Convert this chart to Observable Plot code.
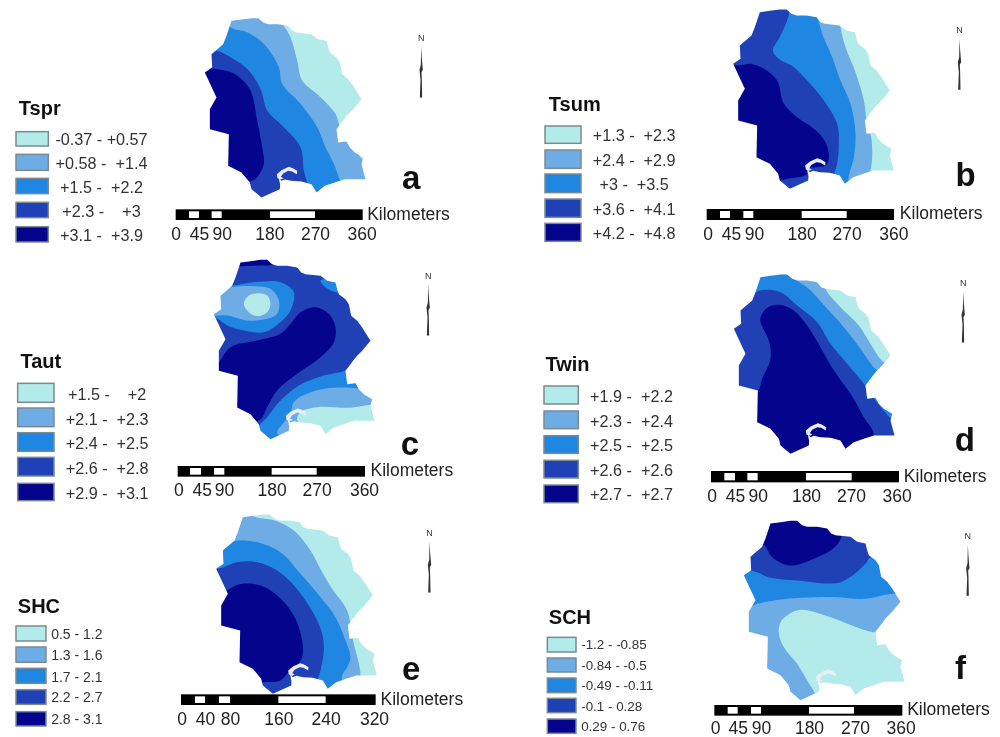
<!DOCTYPE html>
<html><head><meta charset="utf-8">
<style>html,body{margin:0;padding:0;background:#fff}svg{display:block;filter:blur(.55px)}</style>
<script src="https://cdn.jsdelivr.net/npm/d3@7"></script>
<script src="https://cdn.jsdelivr.net/npm/@observablehq/plot@0.6"></script>
</head><body><div id="chart"></div>
<script>
const classColors = ["#b3ebeb","#6dace4","#1f86e2","#2040b5","#04048d"];
const tick360 = ["0","45","90","180","270","360"];
const tick320 = ["0","40","80","160","240","320"];

// province outline (image units = 1/3 px)
const outline = [[690,80],[720,76],[750,72],[770,72],[785,85],[800,90],[830,90],[860,95],[872,110],[885,115],[930,120],[950,135],[975,140],[980,160],[985,175],[1005,190],[1015,205],[1022,240],[1040,255],[1055,275],[1080,315],[1055,345],[1035,365],[1020,385],[1005,405],[1010,445],[1035,442],[1045,460],[1060,475],[1085,490],[1080,510],[1092,555],[1030,555],[1000,565],[970,575],[945,595],[930,570],[900,562],[870,560],[850,556],[840,560],[832,552],[836,572],[835,585],[780,610],[750,585],[745,565],[720,535],[680,515],[682,420],[625,405],[625,345],[645,310],[610,235],[632,220],[630,180],[665,150],[675,125]];
const lake = [[826,540],[840,528],[862,518],[874,522],[887,530],[886,540],[872,532],[860,530],[845,538],[838,548],[846,552],[838,556],[828,552]];
const needle = [[0,25],[2,60],[5,95],[1,102],[2,125],[3,178],[-4,178],[-2,125],[-5,95],[-1,80]];

const zonesA = [
 [1,[[840,0],[840,55],[870,110],[890,180],[905,240],[960,290],[1005,340],[1020,385],[1045,420],[1065,445],[1085,475],[1120,480],[1120,620],[500,620],[500,0]]],
 [2,[[680,40],[690,80],[740,95],[790,130],[835,200],[845,250],[900,310],[950,380],[975,440],[1000,490],[1020,545],[1050,620],[500,620],[500,40]]],
 [3,[[500,150],[645,150],[690,170],[740,205],[780,265],[800,330],[850,380],[900,440],[910,510],[920,545],[945,620],[500,620]]],
 [4,[[500,210],[660,208],[710,225],[750,270],[770,360],[785,440],[790,490],[770,530],[740,545],[500,545]]]];
const zonesB = [
 [1,[[920,0],[930,80],[945,140],[975,215],[1000,300],[1010,370],[1022,410],[1025,470],[1020,510],[1000,600],[500,600],[500,0]]],
 [2,[[855,0],[860,40],[875,100],[905,170],[930,240],[960,310],[975,400],[970,470],[955,525],[945,600],[500,600],[500,0]]],
 [3,[[785,0],[780,20],[770,60],[745,115],[727,150],[745,175],[790,200],[830,240],[880,300],[920,370],[925,430],[920,490],[910,525],[905,600],[500,600],[500,0]]],
 [4,[[500,190],[625,195],[660,190],[700,205],[740,240],[760,310],[800,350],[850,385],[885,425],[895,470],[885,495],[830,505],[828,522],[770,535],[745,540],[500,540]]]];
const zonesC = [
 [4,[[700,15],[840,15],[830,40],[775,45],[725,47],[700,45]]],
 [2,[[600,105],[690,105],[760,95],[840,95],[880,125],[870,180],[840,215],[790,245],[730,240],[680,225],[650,205],[600,190]]],
 [2,[[960,90],[1015,85],[1015,125],[975,110]]],
 [1,[[600,130],[690,110],[760,107],[810,115],[835,150],[830,190],[800,205],[740,210],[680,195],[640,195],[600,195]]],
 [0,[[730,160],[745,135],[775,128],[800,135],[810,160],[800,185],[770,197],[745,185]]],
 [4,[[600,352],[640,352],[690,290],[770,270],[840,250],[870,220],[900,185],[945,170],[985,190],[1005,230],[1000,275],[960,320],[890,370],[830,420],[800,470],[775,510],[600,510]]],
 [2,[[1070,340],[1035,360],[960,378],[895,405],[840,450],[800,500],[775,530],[790,600],[880,600],[1150,600],[1150,430],[1100,400]]],
 [1,[[1150,430],[1080,415],[1000,412],[930,425],[880,455],[870,490],[855,510],[830,545],[840,560],[880,600],[1150,600]]],
 [0,[[1150,470],[1040,472],[950,470],[900,485],[890,510],[930,530],[970,600],[1150,600]]]];
const zonesD = [
 [1,[[880,50],[885,115],[925,165],[985,225],[1020,280],[1060,335],[1120,350],[1120,640],[500,640],[500,50]]],
 [2,[[790,50],[800,88],[835,115],[890,175],[940,230],[990,295],[1025,345],[1050,370],[1150,500],[1150,640],[500,640],[500,50]]],
 [3,[[500,125],[672,125],[700,118],[750,125],[800,165],[860,215],[900,280],[950,340],[1000,400],[1035,450],[1060,480],[1085,505],[1150,505],[1150,640],[500,640]]],
 [4,[[690,215],[690,200],[710,172],[745,163],[790,180],[830,225],[870,290],[910,360],[960,430],[1000,500],[1030,555],[970,640],[650,640],[650,430],[682,422],[695,385],[720,325],[715,270]]]];
const zonesE = [
 [1,[[755,30],[755,45],[830,62],[880,90],[930,150],[965,215],[995,265],[1040,330],[1052,390],[1060,430],[1075,490],[1080,530],[1060,640],[500,640],[500,30]]],
 [2,[[500,130],[690,130],[700,122],[770,125],[840,155],[900,220],[960,290],[1005,350],[1035,420],[1050,470],[1040,500],[1025,525],[1020,640],[500,640]]],
 [3,[[500,205],[650,205],[710,185],[770,185],[830,210],[885,260],[940,340],[965,400],[970,450],[960,510],[950,545],[940,640],[500,640]]],
 [4,[[500,285],[668,285],[680,270],[725,250],[780,255],[830,285],[880,345],[905,420],[905,470],[885,500],[860,520],[840,540],[790,545],[500,545]]]];
const zonesF = [
 [0,[[745,400],[750,365],[770,345],[810,328],[900,350],[1030,395],[1150,390],[1150,640],[860,640],[855,585],[830,540],[800,490],[760,440]]],
 [2,[[500,40],[1150,40],[1150,278],[1085,280],[1000,295],[920,290],[850,290],[770,295],[680,310],[660,318],[500,318]]],
 [3,[[500,40],[1150,40],[1150,170],[1020,170],[1005,190],[930,245],[800,240],[720,232],[662,210],[500,210]]],
 [4,[[500,40],[935,40],[935,100],[925,125],[900,150],[860,170],[780,195],[725,170],[695,130],[500,130]]]];

const titles = ["Tspr","Tsum","Taut","Twin","SHC","SCH"];
const panelLetters = ["a","b","c","d","e","f"];
const labelsA = ["-0.37 - +0.57","+0.58 -\u00a0 +1.4","+1.5 -\u00a0 +2.2","+2.3 -\u00a0\u00a0\u00a0 +3","+3.1 -\u00a0 +3.9"];
const labelsB = ["+1.3 -\u00a0 +2.3","+2.4 -\u00a0 +2.9","+3 -\u00a0 +3.5","+3.6 -\u00a0 +4.1","+4.2 -\u00a0 +4.8"];
const labelsC = ["+1.5 -\u00a0\u00a0\u00a0 +2","+2.1 -\u00a0 +2.3","+2.4 -\u00a0 +2.5","+2.6 -\u00a0 +2.8","+2.9 -\u00a0 +3.1"];
const labelsD = ["+1.9 -\u00a0 +2.2","+2.3 -\u00a0 +2.4","+2.5 -\u00a0 +2.5","+2.6 -\u00a0 +2.6","+2.7 -\u00a0 +2.7"];
const labelsE = ["0.5 - 1.2","1.3 - 1.6","1.7 - 2.1","2.2 - 2.7","2.8 - 3.1"];
const labelsF = ["-1.2 - -0.85","-0.84 - -0.5","-0.49 - -0.11","-0.1 - 0.28","0.29 - 0.76"];

const panels = [
 {ox:0,oy:0,dx:3,dy:-19,base:0,zones:zonesA,labels:labelsA,ticks:tick360,
  title:[55,325],letter:[1232,535],north:[1262,113],
  sw:[48,145,[[395,438],[463,511],[535,581],[607,653],[680,726]]],lab:[303,"middle",16.2,[418,490,563,635,706]],
  bar:[527,1088,628,660],whites:[[567,597],[635,665],[810,945]],tickX:[527,597,665,808,945,1085],tickY:703,km:[1100,643]},
 {ox:530,oy:0,dx:-2,dy:-45,base:0,zones:zonesB,labels:labelsB,ticks:tick360,
  title:[55,312],letter:[1305,525],north:[1287,90],
  sw:[45,153,[[378,430],[450,505],[522,578],[597,652],[670,724]]],lab:[311,"middle",16.2,[407,481,554,627,700]],
  bar:[530,1092,627,660],whites:[[570,600],[640,670],[815,950]],tickX:[533,603,672,815,950,1090],tickY:702,km:[1108,638]},
 {ox:0,oy:250,dx:30,dy:-44,base:3,zones:zonesC,labels:labelsC,ticks:tick360,
  title:[60,333],letter:[1228,583],north:[1283,77],
  sw:[53,162,[[400,457],[474,530],[548,604],[622,678],[700,752]]],lab:[320,"middle",16.2,[432,507,580,655,730]],
  bar:[533,1095,648,680],whites:[[570,603],[642,673],[815,950]],tickX:[535,605,672,815,950,1092],tickY:720,km:[1110,660]},
 {ox:530,oy:250,dx:0,dy:0,base:0,zones:zonesD,labels:labelsD,ticks:tick360,
  title:[45,343],letter:[1303,570],north:[1298,98],
  sw:[42,145,[[408,462],[483,536],[557,610],[631,684],[705,758]]],lab:[303,"middle",16.2,[440,513,585,660,732]],
  bar:[543,1107,663,697],whites:[[583,615],[652,683],[828,965]],tickX:[545,615,683,828,963,1100],tickY:738,km:[1120,677]},
 {ox:0,oy:500,dx:37,dy:-30,base:0,zones:zonesE,labels:labelsE,ticks:tick320,
  title:[52,318],letter:[1232,508],north:[1287,98],
  sw:[48,138,[[378,423],[441,487],[505,550],[569,613],[635,678]]],lab:[152,"start",14,[402,466,530,592,657]],
  bar:[543,1127,583,615],whites:[[585,615],[657,690],[835,977]],tickX:[545,615,690,835,977,1122],tickY:656,km:[1140,596]},
 {ox:530,oy:500,dx:30,dy:-11,base:1,zones:zonesF,labels:labelsF,ticks:tick360,
  title:[55,352],letter:[1290,505],north:[1312,108],
  sw:[52,138,[[412,456],[474,516],[534,578],[595,638],[657,700]]],lab:[152,"start",13.4,[434,496,557,618,680]],
  bar:[553,1117,615,647],whites:[[593,623],[663,693],[837,972]],tickX:[555,623,693,837,975,1112],tickY:683,km:[1130,627]}
];

const sansFont = "Liberation Sans, Arial, sans-serif";
const marks = [];
const poly = (pts, fill, curve="linear") => Plot.line(pts,{x:d=>d[0],y:d=>d[1],fill,stroke:"none",curve});

// maps first
panels.forEach(p=>{
  const X = u => p.ox + u/3, Y = v => p.oy + v/3;
  const toPx = pts => pts.map(([u,v])=>[X(u),Y(v)]);
  const shifted = pts => pts.map(([u,v])=>[X(u+p.dx),Y(v+p.dy)]);
  const out = shifted(outline);
  const allZone = p.zones.flatMap(z=>z[1]);
  const xs = [...allZone.map(d=>X(d[0])),...out.map(d=>d[0])], ys=[...allZone.map(d=>Y(d[1])),...out.map(d=>d[1])];
  const m = 34;
  const x0=d3.min(xs)-m,x1=d3.max(xs)+m,y0=d3.min(ys)-m,y1=d3.max(ys)+m;
  marks.push(Plot.rect([0],{x1:()=>d3.min(out,d=>d[0])-1,x2:()=>d3.max(out,d=>d[0])+1,y1:()=>d3.min(out,d=>d[1])-1,y2:()=>d3.max(out,d=>d[1])+1,fill:classColors[p.base]}));
  p.zones.forEach(([c,pts])=>marks.push(poly(toPx(pts),classColors[c],"catmull-rom-closed")));
  // white surround outside the province outline (rectangle + reversed ring, joined by a bridge)
  const outer=[[x0,y0],[x1,y0],[x1,y1],[x0,y1],[x0,y0]];
  const ringArea=d3.polygonArea(outer), outArea=d3.polygonArea(out);
  const ring = (ringArea>0)===(outArea>0) ? [...out].reverse() : out;
  marks.push(poly([...outer,ring[0],...ring.slice(1),ring[0],[x0,y0]],"#fff"));
  marks.push(poly(shifted(lake),"#e8eef6"));
});

// then everything that is written or ruled on top
panels.forEach((p,i)=>{
  const X = u => p.ox + u/3, Y = v => p.oy + v/3;
  marks.push(poly(needle.map(([a,b])=>[X(p.north[0]+a),Y(p.north[1]+b)]),"#333"));
  marks.push(Plot.text(["N"],{x:X(p.north[0]),y:Y(p.north[1]),text:d=>d,fontSize:9,fontFamily:sansFont,fill:"#333"}));

  marks.push(Plot.rect([0],{x1:X(p.bar[0]),x2:X(p.bar[1]),y1:Y(p.bar[2]),y2:Y(p.bar[3]),fill:"#000"}));
  p.whites.forEach(w=>marks.push(Plot.rect([0],{x1:X(w[0]),x2:X(w[1]),y1:Y(p.bar[2]+6),y2:Y(p.bar[3]-6),fill:"#fff"})));
  marks.push(Plot.text(p.ticks,{x:(d,j)=>X(p.tickX[j]),y:Y(p.tickY),text:d=>d,fontSize:17.5,fontFamily:sansFont,fill:"#222"}));
  marks.push(Plot.text(["Kilometers"],{x:X(p.km[0]),y:Y(p.km[1]),text:d=>d,textAnchor:"start",fontSize:17.5,fontFamily:sansFont,fill:"#222"}));

  marks.push(Plot.text([titles[i]],{x:X(p.title[0]),y:Y(p.title[1]),text:d=>d,textAnchor:"start",fontSize:20,fontWeight:"bold",fontFamily:sansFont,fill:"#111"}));
  marks.push(Plot.rect(p.sw[2],{x1:X(p.sw[0]),x2:X(p.sw[1]),y1:d=>Y(d[0]),y2:d=>Y(d[1]),fill:(d,j)=>classColors[j],stroke:"#7b8a90",strokeWidth:1.5}));
  marks.push(Plot.text(p.labels,{x:X(p.lab[0]),y:(d,j)=>Y(p.lab[3][j]),text:d=>d,textAnchor:p.lab[1],fontSize:p.lab[2],fontFamily:sansFont,fill:"#333"}));

  marks.push(Plot.text([panelLetters[i]],{x:X(p.letter[0]),y:Y(p.letter[1]),text:d=>d,fontSize:33,fontWeight:"bold",fontFamily:sansFont,fill:"#111"}));
});

const chart = Plot.plot({
  width:1000,height:737,margin:0,
  style:{background:"#fff"},
  x:{domain:[0,1000],range:[0,1000],axis:null},
  y:{domain:[0,737],range:[0,737],axis:null},
  color:{type:"identity"},
  marks
});
document.getElementById("chart").append(chart);
</script></body></html>
